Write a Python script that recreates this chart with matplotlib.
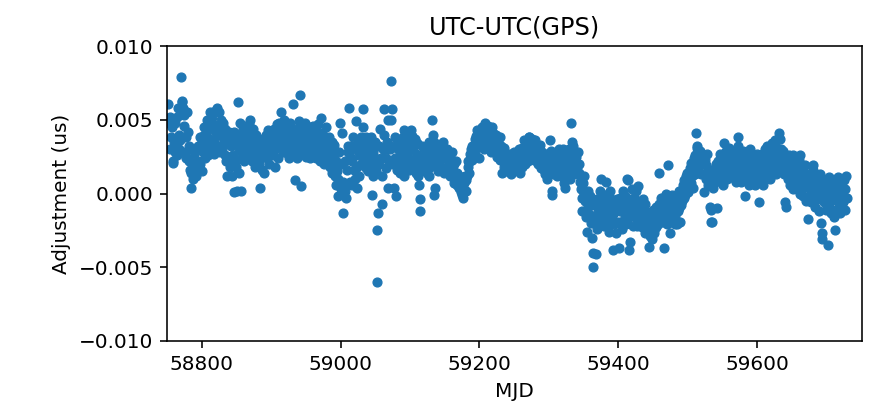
import numpy as np
import matplotlib
matplotlib.use("Agg")
import matplotlib.pyplot as plt

# Daily adjustment values, units of 1e-4 us, starting at MJD 58752
start_mjd = 58752
vals_e4 = [
    61, 48, 30, 52, 38, 45, 22, 21, 35, 28,
    48, 33, 26, 52, 58, 40, 30, 36, 79, 62,
    63, 58, 53, 46, 28, 24, 38, 55, 42, 22,
    32, 16, 4, 14, 30, 20, 10, 27, 30, 18,
    12, 18, 32, 22, 30, 38, 20, 33, 15, 35,
    28, 40, 45, 24, 33, 50, 38, 26, 46, 32,
    55, 44, 30, 52, 47, 27, 36, 56, 40, 30,
    58, 46, 32, 55, 28, 42, 50, 30, 38, 48,
    36, 26, 44, 22, 12, 35, 40, 25, 42, 18,
    32, 12, 38, 26, 1, 42, 22, 35, 18, 2,
    62, 14, 30, 48, 2, 40, 26, 44, 35, 22,
    44, 30, 40, 24, 42, 33, 47, 28, 50, 36,
    30, 22, 44, 36, 25, 18, 40, 34, 24, 31,
    20, 28, 4, 34, 24, 16, 37, 30, 14, 27,
    28, 40, 24, 43, 33, 20, 38, 27, 42, 32,
    36, 26, 44, 30, 18, 40, 47, 33, 24, 38,
    48, 38, 55, 32, 44, 28, 38, 50, 30, 42,
    36, 45, 27, 40, 24, 48, 32, 43, 35, 27,
    61, 38, 9, 44, 35, 24, 42, 30, 49, 37,
    67, 5, 36, 45, 27, 40, 31, 48, 25, 42,
    40, 27, 45, 35, 24, 44, 31, 38, 26, 46,
    35, 43, 24, 40, 30, 47, 28, 38, 22, 41,
    51, 33, 24, 40, 20, 37, 28, 45, 24, 34,
    32, 22, 38, 18, 28, 35, 14, 26, 33, 18,
    12, 22, 6, 15, -2, 10, 28, 48, 3, 20,
    41, 8, -13, 6, 22, 2, -3, 16, 28, 32,
    58, 25, 8, 32, 6, 22, 38, 16, 30, 10,
    49, 18, 4, 34, 26, 12, 32, 20, 38, 28,
    57, 45, 22, 32, 17, 38, 27, 15, 34, 22,
    32, 20, 38, -1, 28, 12, 25, 17, 35, 15,
    -60, -25, -13, 20, 32, 44, 24, -7, 12, 30,
    57, 40, 30, 24, 17, 35, 50, 4, 20, 30,
    76, 50, 57, 32, 20, 4, 38, 24, -2, 16,
    30, 17, 35, 24, 14, 32, 20, 27, 38, 12,
    43, 30, 18, 37, 25, 29, 16, 35, 22, 40,
    43, 39, 22, 31, 18, 37, 27, 14, 34, 25,
    12, 6, -12, -4, 20, 32, 25, 16, 30, 20,
    25, 32, 14, 22, 30, 12, 35, 18, 27, 23,
    50, 40, 35, -1, 4, 32, 20, 26, 15, 30,
    32, 23, 18, 29, 17, 26, 35, 14, 24, 28,
    26, 18, 30, 14, 22, 12, 25, 18, 28, 15,
    16, 20, 7, 12, 22, 6, 14, 9, 4, 12,
    5, 9, 1, -1, -3, 4, 7, 12, 2, 9,
    12, 18, 22, 14, 27, 22, 30, 23, 32, 26,
    32, 37, 28, 39, 43, 34, 41, 24, 32, 38,
    41, 33, 45, 38, 30, 43, 48, 36, 41, 33,
    46, 40, 33, 43, 37, 28, 45, 35, 41, 31,
    36, 28, 40, 31, 25, 35, 29, 38, 23, 32,
    28, 14, 22, 31, 18, 27, 21, 15, 26, 19,
    23, 16, 27, 13, 20, 25, 15, 22, 28, 18,
    20, 26, 16, 28, 22, 30, 14, 23, 27, 18,
    31, 24, 36, 28, 20, 33, 25, 31, 22, 38,
    38, 32, 28, 37, 26, 35, 23, 31, 36, 25,
    31, 25, 20, 29, 23, 33, 17, 25, 28, 21,
    23, 16, 27, 13, 20, 25, 10, 19, 24, 15,
    36, 29, 2, -1, 22, 13, 27, 17, 23, 12,
    26, 18, 30, 22, 15, 28, 12, 25, 19, 30,
    7, 4, 21, 27, 13, 23, 16, 30, 10, 25,
    48, 35, 28, 32, 20, 27, 15, 25, 18, 13,
    28, 20, 14, 8, 3, -3, -12, 7, 0, 12,
    -5, -12, -16, -26, 2, -9, -14, -2, -20, -6,
    -30, -40, -50, -20, -8, -16, -41, -4, -24, -12,
    -7, -17, 2, 10, -20, -12, -4, -22, -10, -1,
    8, -16, -7, -23, -26, -12, 2, -19, -4, -10,
    -38, -14, -21, -6, -12, -27, -4, -19, -9, -37,
    -12, -3, -19, -7, -24, 2, -10, -16, -2, -21,
    10, -7, 9, -16, -38, -33, -4, -13, 3, -22,
    -9, -3, -16, 2, -7, -22, -12, 5, -19, -5,
    -15, -8, -23, -4, -19, -11, -27, -7, -14, -21,
    -19, -26, -36, -14, -29, -17, -23, -31, -11, -25,
    -27, -17, -23, -9, -15, -21, 14, -7, -13, -3,
    -9, -16, -3, -19, -37, -7, -13, 0, -21, -14,
    19, -4, -27, -10, -16, -1, -19, -7, -12, -21,
    -15, -6, -21, -3, -12, 2, -10, -19, -1, -8,
    -5, 6, -3, 9, -1, 12, 3, 14, 6, 1,
    10, 17, 7, 21, 12, 19, 4, 24, 13, 26,
    41, 32, 31, 16, 26, 19, 29, 13, 22, 27,
    21, 13, 1, 23, 10, 19, 27, 6, 16, 9,
    -9, -19, -11, -19, 4, 13, 7, 17, 9, 20,
    -10, 16, 22, 11, 27, 18, 8, 24, 13, 6,
    34, 22, 13, 29, 19, 10, 26, 17, 31, 14,
    20, 29, 13, 26, 17, 23, 10, 28, 8, 25,
    32, 38, 19, 13, 26, 8, 17, 29, 22, 10,
    -2, 15, 21, 27, 11, 19, 6, 23, 30, 13,
    27, 26, 17, 10, 23, 6, 15, 21, 27, 8,
    -6, 14, 23, 17, 10, 27, 6, 21, 13, 30,
    26, 16, 32, 22, 13, 29, 19, 10, 25, 17,
    34, 28, 18, 36, 24, 13, 31, 21, 16, 27,
    41, 37, 30, 24, 16, 29, 21, 13, -6, 20,
    -9, 14, 21, 10, 26, 6, 18, 23, 8, 3,
    26, 14, 6, 21, 11, 3, 19, 9, 23, 0,
    26, 9, 3, 16, -2, 12, 6, 19, -5, 5,
    8, -17, 4, 13, -2, 10, -6, 1, 16, 19,
    5, -9, 11, -1, -4, 9, 2, -12, 4, 13,
    -20, -31, -27, 6, -6, 9, -1, -11, 3, -3,
    -35, -9, 11, -5, 2, -13, 7, -3, -16, 0,
    -25, 9, -11, 3, -6, 11, -9, 0, -13, 6,
    10, -1, -6, 9, -11, 3, 12, -3,
]

title = "UTC-UTC(GPS)"
xlabel = "MJD"
ylabel = "Adjustment (us)"
yticks = [-0.010, -0.005, 0.000, 0.005, 0.010]
xticks = [58800, 59000, 59200, 59400, 59600]

values = np.array(vals_e4) * 1e-4
mjd = start_mjd + np.arange(len(values))

scale = 1.44
plt.rcParams.update({
    "font.size": 10 * scale,
    "axes.titlesize": 12 * scale,
    "axes.labelsize": 10 * scale,
    "xtick.labelsize": 10 * scale,
    "ytick.labelsize": 10 * scale,
    "xtick.major.size": 3.5 * scale,
    "ytick.major.size": 3.5 * scale,
    "xtick.major.width": 0.8 * scale,
    "ytick.major.width": 0.8 * scale,
    "axes.linewidth": 0.8 * scale,
    "xtick.major.pad": 3.5 * scale,
    "ytick.major.pad": 3.5 * scale,
    "axes.titlepad": 6 * scale,
    "axes.labelpad": 4 * scale,
})

fig = plt.figure(figsize=(8.77, 4.03), dpi=100)
ax = fig.add_axes([167 / 877, 62 / 403, 695 / 877, 295 / 403])
ax.scatter(mjd, values, s=40, color="#1f77b4")
ax.set_xlim(58750, 59751)
ax.set_ylim(-0.010, 0.010)
ax.set_yticks(yticks)
ax.set_xticks(xticks)
ax.set_title(title)
ax.set_xlabel(xlabel)
ax.set_ylabel(ylabel)
fig.savefig("out.png", dpi=100)
